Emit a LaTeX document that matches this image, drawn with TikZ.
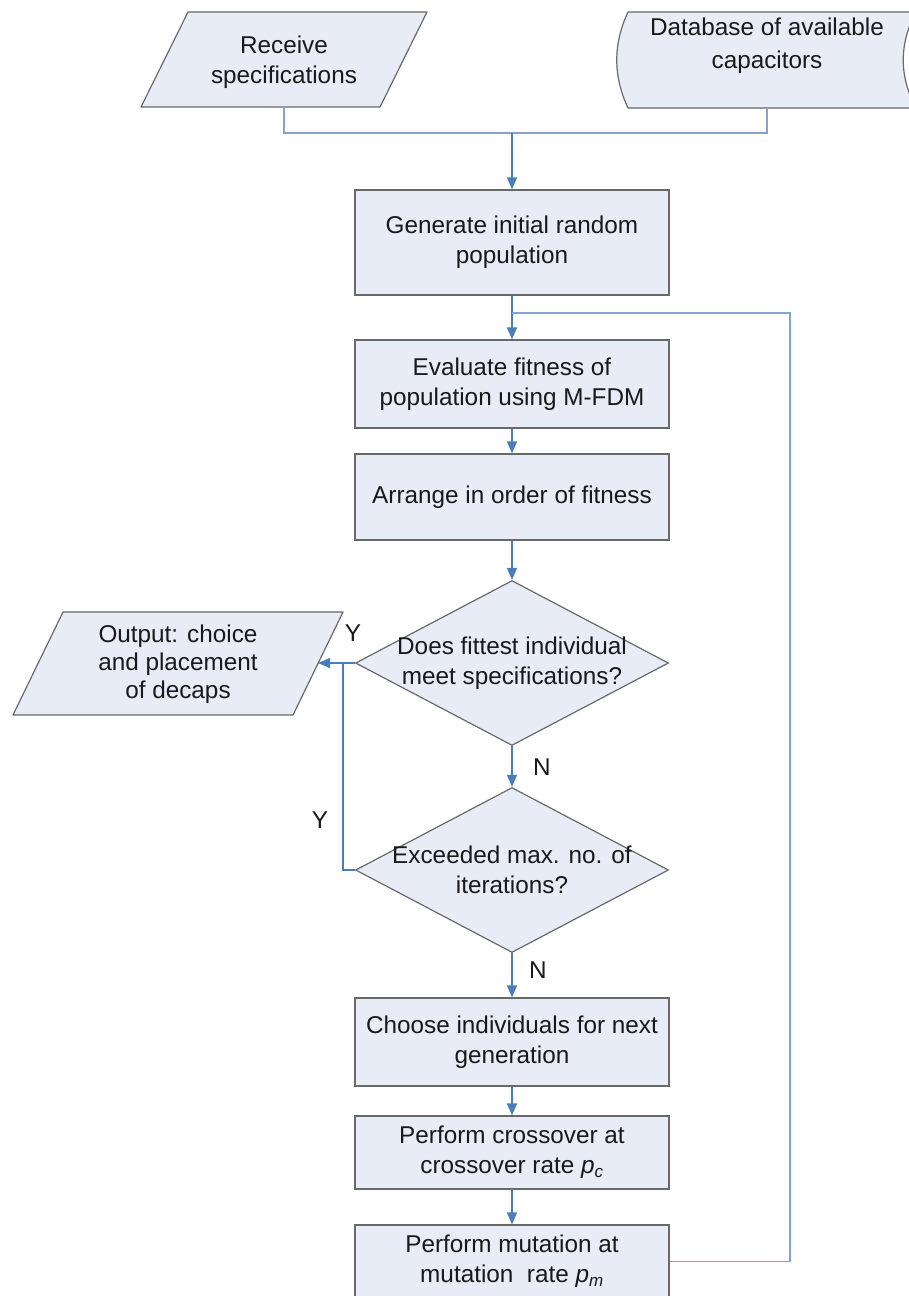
\documentclass[tikz,border=0pt]{standalone}
\usepackage{fontspec}
\setmainfont{Liberation Sans}
\usetikzlibrary{arrows.meta,shapes.geometric}
\definecolor{boxfill}{RGB}{231,236,247}
\definecolor{boxline}{RGB}{105,105,105}
\definecolor{conn}{RGB}{74,126,187}
\definecolor{connlt}{RGB}{135,163,205}
\definecolor{ink}{RGB}{25,25,25}
\begin{document}
\begin{tikzpicture}[x=1pt,y=-1pt,
  every node/.style={font=\fontsize{24.3}{30}\selectfont, text=ink},
  procbox/.style={draw=boxline, fill=boxfill, line width=1.2pt, minimum width=314pt, inner sep=0pt, align=center},
  decision/.style={diamond, draw=boxline, fill=boxfill, line width=1.2pt, minimum width=313pt, minimum height=165pt, inner sep=0pt},
  txtnode/.style={align=center, inner sep=0pt},
  shapebody/.style={draw=boxline, fill=boxfill, line width=1.2pt, line join=round},
  connline/.style={draw=conn, line width=1.3pt},
  arr/.style={connline, -{Triangle[width=10pt,length=12pt]}},
  thinconn/.style={draw=connlt, line width=1.1pt},
  yn/.style={inner sep=0pt},
]
\useasboundingbox (0,0) rectangle (908,1296);

% ---- input parallelogram ----
\path[shapebody] (188,12) -- (427,12) -- (380,107) -- (141,107) -- cycle;
\node[txtnode] (recv) at (284,62) {Receive\\specifications};
\coordinate (recvB) at (284,107);

% ---- database (stored data) ----
\path[shapebody] (628,12) -- (916,12) .. controls (899,44) and (899,76) .. (916,108)
  -- (628,108) .. controls (613,76) and (613,44) .. (628,12) -- cycle;
\node[txtnode, font=\fontsize{24.3}{33}\selectfont] (db) at (767,46) {Database of available\\capacitors};
\coordinate (dbB) at (767,108);

% ---- main column ----
\node[procbox, minimum height=105pt] (gen) at (512,242.5) {Generate initial random\\population};
\node[procbox, minimum height=88pt] (eval) at (512,384) {Evaluate fitness of\\population using M-FDM};
\node[procbox, minimum height=86pt] (arrange) at (512,497) {Arrange in order of fitness};

\node[decision] (d1) at (512,663) {};
\node[txtnode] (d1t) at (512,663) {Does fittest individual\\meet specifications?};
\node[decision] (d2) at (512,870) {};
\node[txtnode] (d2t) at (512,870) {Exceeded max. no. of\\iterations?};

\node[procbox, minimum height=88pt] (choose) at (512,1042) {Choose individuals for next\\generation};
\node[procbox, minimum height=73pt] (cross) at (512,1152.5) {Perform crossover at\\crossover rate \textit{p}\textsubscript{\textit{c}}};
\node[procbox, minimum height=73pt] (mut) at (512,1261.5) {Perform mutation at\\mutation\ \ rate \textit{p}\textsubscript{\textit{m}}};

% ---- output parallelogram ----
\path[shapebody] (63,612) -- (343,612) -- (293,715) -- (13,715) -- cycle;
\node[txtnode, font=\fontsize{24.3}{28}\selectfont] (out) at (178,664) {Output: choice\\and placement\\of decaps};
\coordinate (outR) at (318,663);

% ---- connectors ----
\coordinate (merge) at (512,133);
\draw[thinconn] (recvB) |- (merge) -| (dbB);
\draw[arr] (merge) -- (gen);

\coordinate (join) at (512,313);
\coordinate (loopTop) at (790,313);
\draw[arr] (gen) -- (eval);
\draw[thinconn] (mut.east) -| (loopTop) -- (join);
\draw[arr] (eval) -- (arrange);
\draw[arr] (arrange) -- (d1.north);
\draw[arr] (d1.south) -- (d2.north);
\draw[arr] (d2.south) -- (choose);
\draw[arr] (choose) -- (cross);
\draw[arr] (cross) -- (mut);

\draw[arr] (d1.west) -- (outR);
\coordinate (yjoin) at (343,663);
\draw[connline] (d2.west) -| (yjoin);

% ---- Y / N labels ----
\node[yn] (y1) at (353,633) {Y};
\node[yn] (n1) at (542,767) {N};
\node[yn] (y2) at (320,820) {Y};
\node[yn] (n2) at (538,970) {N};
\end{tikzpicture}
\end{document}
